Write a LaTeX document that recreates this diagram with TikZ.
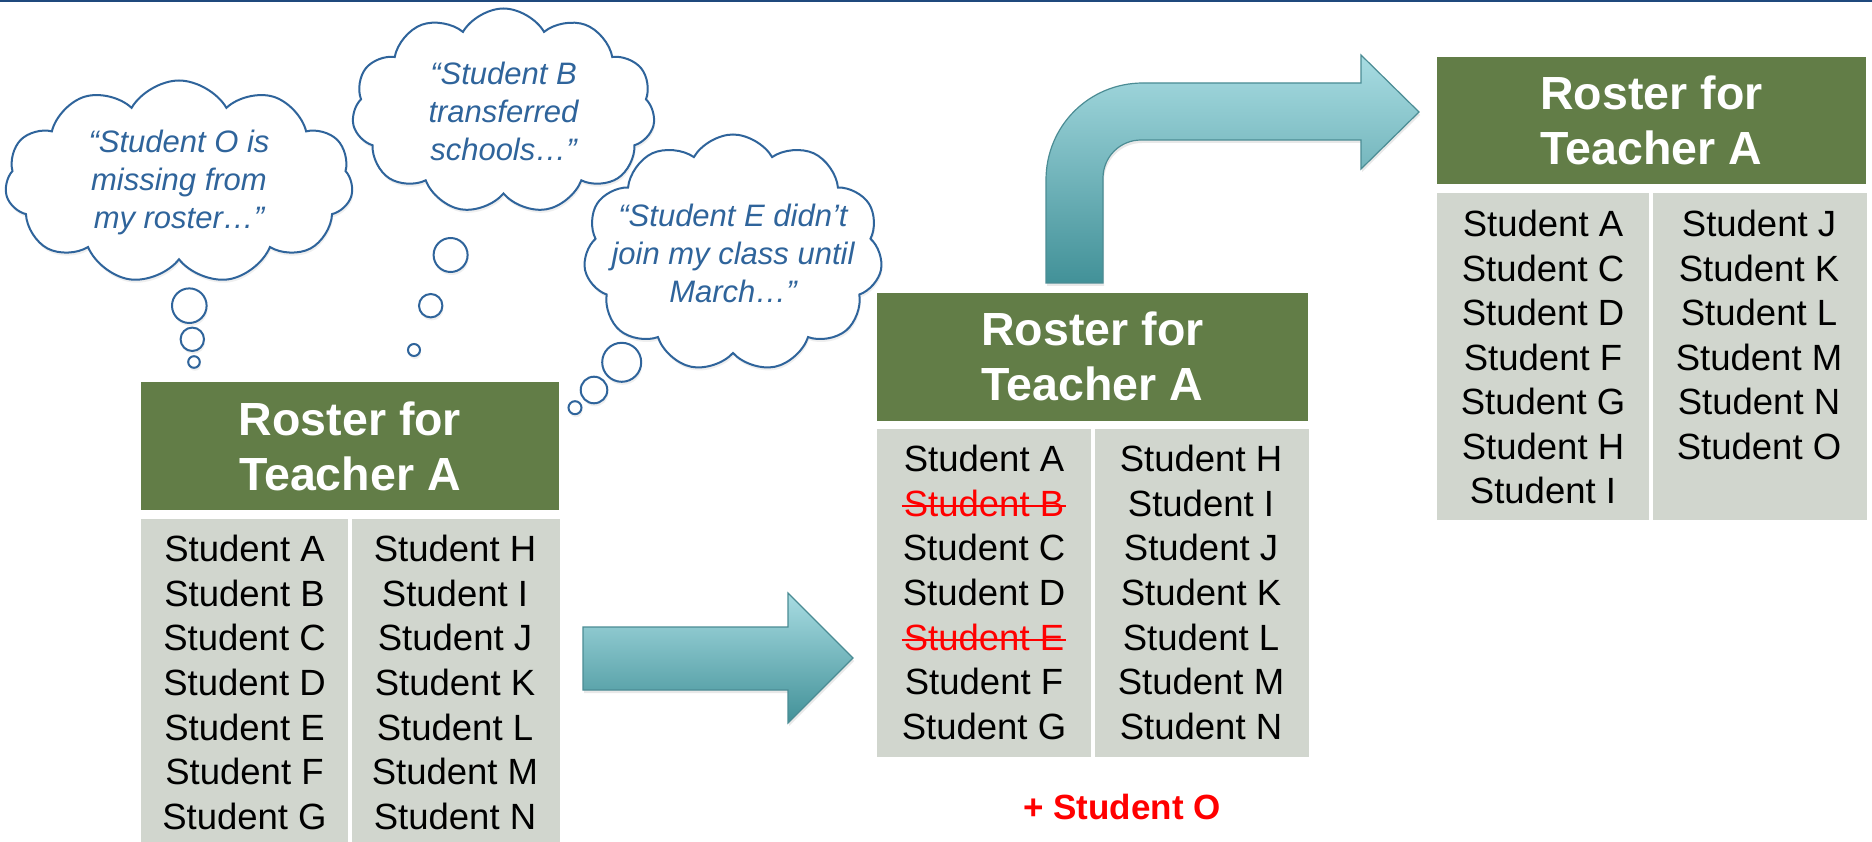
\documentclass[tikz,border=0pt]{standalone}
\usepackage{fontspec}
\setmainfont{Liberation Sans}
\usetikzlibrary{positioning,shapes.symbols,shadows}

\definecolor{headgreen}{RGB}{98,125,71}
\definecolor{cellgray}{RGB}{209,214,206}
\definecolor{arrowtop}{RGB}{168,220,226}
\definecolor{arrowbottom}{RGB}{66,145,152}
\definecolor{arrowline}{RGB}{75,140,148}
\definecolor{cloudblue}{RGB}{47,100,155}
\definecolor{topline}{RGB}{31,73,125}

\begin{document}
\begin{tikzpicture}[x=1pt, y=-1pt,
    rosterhead/.style = {fill=headgreen, text=white, font=\bfseries\fontsize{46.5}{55}\selectfont, align=center, inner sep=0pt},
    rostercell/.style = {fill=cellgray, anchor=north west, inner sep=0pt},
    pupil/.style = {anchor=base, inner sep=0pt, font=\fontsize{36.5}{40}\selectfont},
    strike/.style = {red, line width=2.5pt},
    thought/.style = {cloud, cloud puffs=11, cloud puff arc=120, cloud ignores aspect, draw=cloudblue, line width=2pt, fill=white, text=cloudblue, font=\itshape\fontsize{31}{38}\selectfont, align=center, inner sep=0pt, drop shadow={opacity=0.12, shadow xshift=1pt, shadow yshift=-3pt}},
    bubble/.style = {circle, draw=cloudblue, line width=2pt, fill=white, inner sep=0pt, drop shadow={opacity=0.12, shadow xshift=1pt, shadow yshift=-3pt}},
    blockarrow/.style = {draw=arrowline, line width=1.2pt, top color=arrowtop, bottom color=arrowbottom, drop shadow={opacity=0.18, shadow xshift=1pt, shadow yshift=-3pt}}]

    \useasboundingbox[fill=white] (0,0) rectangle (1872,842);
    \fill[topline] (0,0) rectangle (1872,2.5);

    % thought clouds
    \node[thought, minimum width=348pt, minimum height=203pt] (saysO) at (179,182) {“Student O is\\missing from\\my roster…”};
    \node[bubble, minimum size=34.6pt] (o1) at (189.3,305.7) {};
    \node[bubble, minimum size=23.4pt] (o2) at (192.3,339.3) {};
    \node[bubble, minimum size=11.6pt] (o3) at (194,362) {};

    \node[thought, minimum width=303pt, minimum height=205pt] (saysB) at (503.5,111) {“Student B\\transferred\\schools…”};
    \node[bubble, minimum size=34pt] (b1) at (450.6,255) {};
    \node[bubble, minimum size=23.4pt] (b2) at (430.7,305.7) {};
    \node[bubble, minimum size=12pt] (b3) at (414,350) {};

    \node[thought, inner xsep=-24pt, minimum width=299pt, minimum height=237pt] (saysE) at (733,253) {“Student E didn’t\\join my class until\\March…”};
    \node[bubble, minimum size=39pt] (e1) at (621.7,362.3) {};
    \node[bubble, minimum size=26.6pt] (e2) at (594,390) {};
    \node[bubble, minimum size=13pt] (e3) at (575,407.7) {};

    % first roster
    \node[rosterhead, minimum width=418pt, minimum height=128pt] (headA) at (350,446) {Roster for\\Teacher A};
    \node[rostercell, minimum width=207pt, minimum height=323pt] (colA1) at (141,519) {};
    \node[rostercell, minimum width=208pt, minimum height=323pt, right=3pt of colA1] (colA2) {};
    \foreach \s [count=\i from 0] in {A,...,G}
      \node[pupil] (a\s) at (244.5, 561.4+44.7*\i) {Student \s};
    \foreach \s [count=\i from 0] in {H,...,N}
      \node[pupil] (a\s) at (455, 561.4+44.7*\i) {Student \s};

    % arrows
    \draw[blockarrow] (583,627) -- (788,627) -- (788,593) -- (853,658) -- (788,723) -- (788,690) -- (583,690) -- cycle;
    \draw[blockarrow] (1046,283) -- (1046,180) .. controls (1046,126) and (1089,83) .. (1143,83) -- (1361,83) -- (1361,55) -- (1419,112) -- (1361,169) -- (1361,140) -- (1141,140) .. controls (1120,140) and (1103,157) .. (1103,178) -- (1103,283) -- cycle;

    % second roster
    \node[rosterhead, minimum width=431pt, minimum height=128.5pt] (headB) at (1092.5,356.8) {Roster for\\Teacher A};
    \node[rostercell, minimum width=214pt, minimum height=328pt] (colB1) at (877,429) {};
    \node[rostercell, minimum width=214pt, minimum height=328pt, right=3pt of colB1] (colB2) {};
    \foreach \s/\ink [count=\i from 0] in {A/black, B/red, C/black, D/black, E/red, F/black, G/black}
      \node[pupil, text=\ink] (b\s) at (984, 471.6+44.6*\i) {Student \s};
    \foreach \s [count=\i from 0] in {H,...,N}
      \node[pupil] (b\s) at (1201, 471.6+44.6*\i) {Student \s};
    \foreach \s in {B,E}
      \draw[strike] ([xshift=-2pt, yshift=-3pt]b\s.west) -- ([xshift=2pt, yshift=-3pt]b\s.east);
    \node[font=\bfseries\fontsize{35}{40}\selectfont, text=red, inner sep=0pt] (addO) at (1122,807) {+ Student O};

    % third roster
    \node[rosterhead, minimum width=429pt, minimum height=127pt] (headC) at (1651.5,120.5) {Roster for\\Teacher A};
    \node[rostercell, minimum width=212pt, minimum height=327pt] (colC1) at (1437,193) {};
    \node[rostercell, minimum width=214pt, minimum height=327pt, right=3pt of colC1] (colC2) {};
    \foreach \s [count=\i from 0] in {A,C,D,F,G,H,I}
      \node[pupil] (c\s) at (1543, 237+44.45*\i) {Student \s};
    \foreach \s [count=\i from 0] in {J,...,O}
      \node[pupil] (c\s) at (1759, 237+44.45*\i) {Student \s};
\end{tikzpicture}
\end{document}
